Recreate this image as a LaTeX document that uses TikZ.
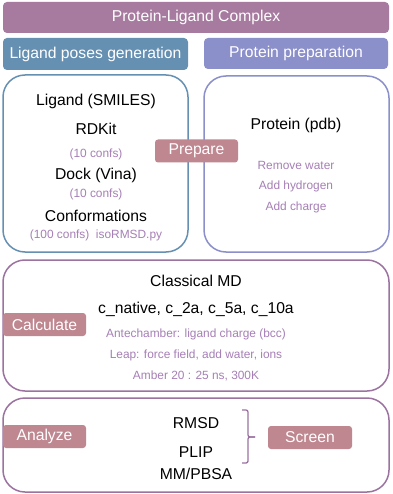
\documentclass[tikz,border=0pt]{standalone}
\usepackage{fontspec}
\setmainfont{Liberation Sans}
\usepackage{xcolor}
\usepackage{tikz}
\usetikzlibrary{positioning,calc}
\definecolor{complexcol}{HTML}{A67B9F}
\definecolor{ligandcol}{HTML}{6690B2}
\definecolor{proteincol}{HTML}{8B8FCA}
\definecolor{actioncol}{HTML}{BF8790}
\definecolor{mdcol}{HTML}{9B72A0}
\definecolor{notecol}{HTML}{A67FB6}

\begin{document}
\begin{tikzpicture}[
      x=1pt, y=-1pt,
      bar/.style={rectangle, rounded corners=4pt, text=white, inner sep=0pt, font=\fontsize{15.7}{18}\selectfont},
      panel/.style={rectangle, rounded corners=22pt, line width=1.5pt, fill=white, inner sep=0pt},
      action/.style={rectangle, rounded corners=3pt, fill=actioncol, text=white, inner sep=0pt, minimum height=23pt, font=\fontsize{15.7}{18}\selectfont},
      big/.style={font=\fontsize{15.7}{18}\selectfont, inner sep=0pt},
      note/.style={font=\fontsize{11.9}{14}\selectfont, text=notecol, inner sep=0pt},
    ]
    \useasboundingbox (0,0) rectangle (392,494);
    % Header bars
    \node [bar, fill=complexcol, minimum width=386pt, minimum height=31pt] (complex) at (196, 17.5) {Protein-Ligand Complex};
    \node [bar, fill=ligandcol, minimum width=185pt, minimum height=32pt] (ligandhead) at (95.5, 54) {Ligand poses generation};
    \node [bar, fill=proteincol, minimum width=184pt, minimum height=31pt] (proteinhead) at (296, 53.5) {Protein preparation};
    % Ligand and protein panels
    \node [panel, draw=ligandcol, minimum width=185pt, minimum height=177pt] (ligandbox) at (95.5, 163.5) {};
    \node [panel, draw=proteincol, minimum width=185pt, minimum height=176pt] (proteinbox) at (296.5, 164) {};
    \node [big] (smiles) at (96, 101) {Ligand (SMILES)};
    \node [big] (rdkit) at (96, 129) {RDKit};
    \node [note] (conf1) at (96, 154) {(10 confs)};
    \node [big] (dock) at (96, 175) {Dock (Vina)};
    \node [note] (conf2) at (96, 194) {(10 confs)};
    \node [big] (conform) at (96, 216) {Conformations};
    \node [note] (conf3) at (96, 235) {(100 confs)\ \ isoRMSD.py};
    \node [big] (pdb) at (296, 125) {Protein (pdb)};
    \node [note] (water) at (296, 165) {Remove water};
    \node [note] (hydrogen) at (296, 186) {Add hydrogen};
    \node [note] (charge) at (296, 207) {Add charge};
    \node [action, minimum width=83pt] (prepare) at (196.5, 151) {Prepare};
    % Classical MD panel
    \node [panel, draw=mdcol, minimum width=386pt, minimum height=131pt] (mdbox) at (196, 325.5) {};
    \node [big] (classical) at (196, 281) {Classical MD};
    \node [big] (systems) at (196, 309) {c\_native, c\_2a, c\_5a, c\_10a};
    \node [note] (antechamber) at (196, 334) {Antechamber: ligand charge (bcc)};
    \node [note] (leap) at (196, 355) {Leap: force field, add water, ions};
    \node [note] (amber) at (196, 376) {Amber 20 : 25 ns, 300K};
    \node [action, minimum width=83pt] (calculate) at (44.5, 324.5) {Calculate};
    % Analysis panel
    \node [panel, draw=mdcol, minimum width=386pt, minimum height=94pt] (anabox) at (196, 445) {};
    \node [action, minimum width=83pt] (analyze) at (44.5, 436.5) {Analyze};
    \node [big] (rmsd) at (196, 423) {RMSD};
    \node [big] (plip) at (196, 452) {PLIP};
    \node [big] (mmpbsa) at (196, 474) {MM/PBSA};
    \node [action, minimum width=84pt] (screen) at (310, 437.5) {Screen};
    \coordinate (bracetop) at (242, 410);
    \coordinate (bracebot) at (242, 463);
    \coordinate (bracetip) at (255, 437);
    \draw [mdcol, line width=1.3pt, rounded corners=2pt] (bracetop) -- ++(6,0) |- (bracetip);
    \draw [mdcol, line width=1.3pt, rounded corners=2pt] (bracebot) -- ++(6,0) |- (bracetip);
  \end{tikzpicture}
\end{document}
